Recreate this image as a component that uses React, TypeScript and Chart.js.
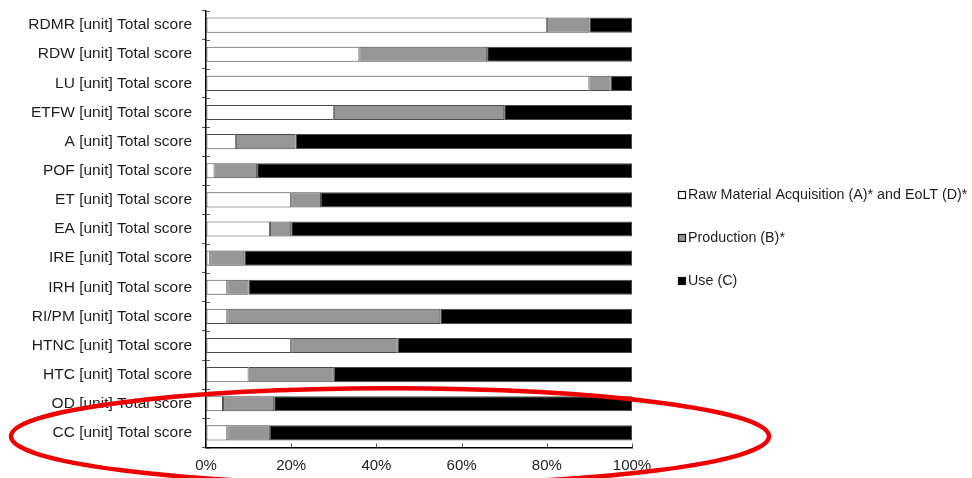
import React, { useEffect, useRef } from "react";
import { Chart, registerables } from "chart.js";

Chart.register(...registerables);

const categories: string[] = [
  "RDMR [unit] Total score",
  "RDW [unit] Total score",
  "LU [unit] Total score",
  "ETFW [unit] Total score",
  "A [unit] Total score",
  "POF [unit] Total score",
  "ET [unit] Total score",
  "EA [unit] Total score",
  "IRE [unit] Total score",
  "IRH [unit] Total score",
  "RI/PM [unit] Total score",
  "HTNC [unit] Total score",
  "HTC [unit] Total score",
  "OD [unit] Total score",
  "CC [unit] Total score",
];

const rawMaterialEoLT: number[] = [80, 36, 90, 30, 7, 2, 20, 15, 1, 5, 5, 20, 10, 4, 5];
const production: number[] = [10, 30, 5, 40, 14, 10, 7, 5, 8, 5, 50, 25, 20, 12, 10];
const use: number[] = [10, 34, 5, 30, 79, 88, 73, 80, 91, 90, 45, 55, 70, 84, 85];

const seriesLabels: string[] = [
  "Raw Material Acquisition (A)* and EoLT (D)*",
  "Production (B)*",
  "Use (C)",
];
const seriesColors: string[] = ["#ffffff", "#969696", "#000000"];

const xTickValues: number[] = [0, 20, 40, 60, 80, 100];

const FONT = "'Liberation Sans', Arial, sans-serif";

const decorPlugin = {
  id: "decor",
  afterDraw(chart: any) {
    const { ctx, chartArea, scales } = chart;
    const x = scales.x;
    const y = scales.y;
    ctx.save();
    // inward ticks on x axis
    ctx.strokeStyle = "#555";
    ctx.lineWidth = 1;
    xTickValues.forEach((v) => {
      const px = Math.round(x.getPixelForValue(v)) + 0.5;
      ctx.beginPath();
      ctx.moveTo(px, chartArea.bottom);
      ctx.lineTo(px, chartArea.bottom - 4);
      ctx.stroke();
    });
    // inward ticks on y axis (category boundaries)
    const n = categories.length;
    for (let i = 0; i <= n; i++) {
      const py = Math.round(chartArea.top + ((chartArea.bottom - chartArea.top) * i) / n) + 0.5;
      ctx.beginPath();
      ctx.moveTo(chartArea.left, py);
      ctx.lineTo(chartArea.left + 4, py);
      ctx.stroke();
    }

    // legend
    const lx = chartArea.right + 46;
    const midY = (chartArea.top + chartArea.bottom) / 2 + 9;
    const gap = 43;
    ctx.font = `14.3px ${FONT}`;
    ctx.textBaseline = "middle";
    ctx.textAlign = "left";
    chart.data.datasets.forEach((ds: any, i: number) => {
      const cy = midY + (i - 1) * gap;
      ctx.fillStyle = ds.backgroundColor;
      ctx.fillRect(lx, cy - 4, 8, 8);
      ctx.strokeStyle = "#111";
      ctx.lineWidth = 1.2;
      ctx.strokeRect(lx + 0.5, cy - 3.5, 7, 7);
      ctx.fillStyle = "#1e1e1e";
      ctx.fillText(ds.label, lx + 10, cy);
    });

    // red annotation ellipse around the last two categories
    const cyE = (y.getPixelForValue(n - 1) + y.getPixelForValue(n - 2)) / 2 + 18;
    ctx.beginPath();
    ctx.ellipse(390, cyE, 379, 48, 0, 0, Math.PI * 2);
    ctx.strokeStyle = "#ee0000";
    ctx.lineWidth = 4.5;
    ctx.stroke();
    ctx.restore();
  },
};

export default function App() {
  const ref = useRef<HTMLCanvasElement | null>(null);

  useEffect(() => {
    if (!ref.current) return;
    const values = [rawMaterialEoLT, production, use];
    const chart = new Chart(ref.current, {
      type: "bar",
      data: {
        labels: categories,
        datasets: values.map((d, i) => ({
          label: seriesLabels[i],
          data: d,
          backgroundColor: seriesColors[i],
          borderColor: "#4a4a4a",
          borderWidth: 1,
          borderSkipped: false,
          barPercentage: 0.52,
          categoryPercentage: 1,
        })),
      },
      options: {
        indexAxis: "y",
        animation: false,
        responsive: true,
        maintainAspectRatio: false,
        layout: { padding: { top: 10.5, right: 340, bottom: 0, left: 0 } },
        plugins: {
          legend: { display: false },
          tooltip: { enabled: false },
        },
        scales: {
          x: {
            stacked: true,
            min: 0,
            max: 100,
            afterFit: (s: any) => {
              s.height = 30.5;
            },
            afterBuildTicks: (s: any) => {
              s.ticks = xTickValues.map((v) => ({ value: v }));
            },
            ticks: {
              callback: (v: any) => `${v}%`,
              font: { family: FONT, size: 15 },
              color: "#222",
              padding: 9,
              maxRotation: 0,
            },
            grid: { drawOnChartArea: false, drawTicks: false },
            border: { display: true, color: "#000", width: 1.5 },
          },
          y: {
            stacked: true,
            afterFit: (s: any) => {
              s.width = 206;
              s.paddingTop = 0;
              s.paddingBottom = 0;
            },
            ticks: {
              font: { family: FONT, size: 15.5 },
              color: "#1e1e1e",
              padding: 10,
              autoSkip: false,
            },
            grid: {
              offset: true,
              drawOnChartArea: false,
              drawTicks: true,
              tickLength: 4,
              color: "#555",
            },
            border: { display: true, color: "#000", width: 1.5 },
          },
        },
      } as any,
      plugins: [decorPlugin],
    });
    return () => chart.destroy();
  }, []);

  return (
    <div style={{ position: "absolute", left: 0, top: 0, width: 972, height: 478, background: "#fff" }}>
      <canvas ref={ref} />
    </div>
  );
}
